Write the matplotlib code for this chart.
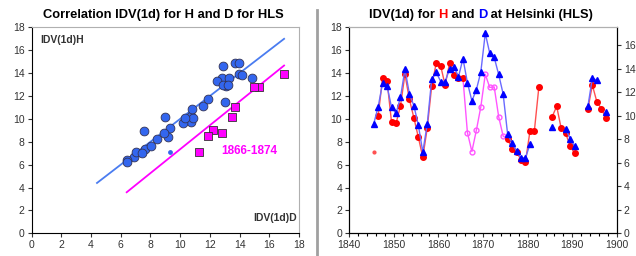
import numpy as np
import matplotlib
matplotlib.use("Agg")
import matplotlib.pyplot as plt
from matplotlib.ticker import MultipleLocator

plt.rcParams['font.family'] = ['Liberation Sans', 'DejaVu Sans']

nan = np.nan

# annual means, plotted at mid-year
years = np.arange(1845, 1898)

# IDV(1d) from H (left axis)
idv_h = [7.1, 10.25, 13.6, 13.3, 9.7, 9.6, 11.15, 13.9, 11.7, 10.1,
         8.4, 6.65, 9.2, 12.9, 14.85, 14.65, 12.95, 14.85, 13.8, 13.55,
         13.55, 8.8, 7.15, 9.0, 11.05, 13.9, 12.75, 12.8, 10.2, 8.5,
         8.25, 7.4, 7.15, 6.4, 6.2, 8.9, 8.95, 12.75, nan, nan,
         10.2, 11.1, 9.2, 8.75, 7.65, 7.0, nan, nan, 10.9, 12.95,
         11.5, 10.9, 10.1]

# IDV(1d) from D (right axis)
idv_d = [9.3, 10.75, 12.8, 12.5, 10.7, 10.2, 11.55, 13.95, 11.85, 10.85,
         9.2, 6.9, 9.3, 13.1, 13.7, 12.9, 12.9, 13.95, 14.15, 13.3,
         14.85, 12.8, 11.25, 12.2, 13.7, 17.0, 15.3, 14.95, 13.5, 11.85,
         8.45, 7.65, 7.0, 6.4, 6.4, 7.55, nan, nan, nan, nan,
         9.0, nan, nan, 8.9, 8.05, 7.4, nan, nan, 10.8, 13.2,
         13.0, nan, 10.3]

odd_period = (1866, 1874)   # H values deviating from D
partial_years = [1845]      # incomplete year, small marker

# regression lines in the scatter plot: slope, intercept, D-range
fit_normal = (1.0, 0.0, 4.4, 17.0)
fit_odd = (1.045, -3.10, 6.4, 17.0)

h = np.array(idv_h)
d = np.array(idv_d)
yr = years + 0.5
in_odd = (years >= odd_period[0]) & (years <= odd_period[1])
partial = np.isin(years, partial_years)

fig = plt.figure(figsize=(6.36, 2.56), dpi=100)
TFS = 9.3  # title font size

# ---- left: scatter H vs D
ax1 = fig.add_axes([0.0498, 0.0887, 0.4202, 0.8043])
ok = ~np.isnan(h) & ~np.isnan(d)
normal = ok & ~in_odd & ~partial
for slope, icpt, x0, x1, col in [fit_normal + ('#4a7cf0',), fit_odd + ('#ff00ff',)]:
    xs = np.array([x0, x1])
    ax1.plot(xs, slope * xs + icpt, color=col, lw=1.3, zorder=2)
ax1.scatter(d[normal], h[normal], s=40, color='#3366ee', edgecolor='#333355',
            linewidth=0.6, zorder=3)
ax1.scatter(d[ok & partial], h[ok & partial], s=6, color='#3366ee', zorder=3)
ax1.scatter(d[ok & in_odd], h[ok & in_odd], s=26, marker='s', color='#ff00ff',
            edgecolor='#333333', linewidth=0.6, zorder=3)
ax1.set_xlim(0, 18)
ax1.set_ylim(0, 18)
ax1.xaxis.set_major_locator(MultipleLocator(2))
ax1.yaxis.set_major_locator(MultipleLocator(2))
ax1.tick_params(labelsize=7.5, length=3, width=0.8, colors='#333333', pad=2)
for s in ['top', 'right']:
    ax1.spines[s].set_color('#b0b0b0')
ax1.text(0.6, 16.6, 'IDV(1d)H', fontsize=7.5, fontweight='bold', color='#333333')
ax1.text(14.9, 1.1, 'IDV(1d)D', fontsize=7.5, fontweight='bold', color='#333333')
ax1.text(12.8, 6.9, '1866-1874', fontsize=8.5, fontweight='bold', color='#ff00ff')
fig.text(0.257, 0.94, 'Correlation IDV(1d) for H and D for HLS', ha='center',
         va='center', fontsize=TFS, fontweight='bold')

# ---- right: time series
ax2 = fig.add_axes([0.549, 0.0887, 0.421, 0.8043])
ax3 = ax2.twinx()

h_main = np.where(in_odd | partial, nan, h)
odd_span = (years >= odd_period[0] - 1) & (years <= odd_period[1] + 1)
h_odd = np.where(odd_span, h, nan)
ax2.plot(yr, h_odd, color='#ff55ff', lw=1, marker='o', ms=3.5, mfc='none',
         mec='#ff55ff', markevery=list(np.where(in_odd)[0]), zorder=2)
ax2.plot(yr, h_main, color='#ff5050', lw=1, marker='o', ms=4, mfc='#ff0000',
         mec='#ff0000', zorder=3)
ax2.plot(yr[partial], h[partial], ls='none', marker='o', ms=2, color='#ff5050',
         zorder=3)
ax3.plot(yr, d, color='#6a6aff', lw=1, marker='^', ms=5, mfc='#0000ff',
         mec='#0000ff', zorder=4)

ax2.set_xlim(1840, 1900)
ax2.set_ylim(0, 18)
ax3.set_ylim(0, 17.5)
ax2.xaxis.set_major_locator(MultipleLocator(10))
ax2.xaxis.set_minor_locator(MultipleLocator(2))
ax2.yaxis.set_major_locator(MultipleLocator(2))
ax3.yaxis.set_major_locator(MultipleLocator(2))
ax2.tick_params(labelsize=7.5, length=3, width=0.8, colors='#333333', pad=2)
ax2.tick_params(which='minor', length=2, width=0.8)
ax3.tick_params(labelsize=7.5, length=3, width=0.8, colors='#333333', pad=2)
ax2.spines['top'].set_color('#b0b0b0')
ax3.spines['top'].set_color('#b0b0b0')

# title with coloured H and D, pieces laid out one after another
parts = [('IDV(1d) for ', 'black'), ('H', 'red'), (' and ', 'black'),
         ('D', 'blue'), (' at Helsinki (HLS)', 'black')]
pieces = [fig.text(0, 0.94, txt, fontsize=TFS, fontweight='bold', color=col,
                   ha='left', va='center') for txt, col in parts]
fig.canvas.draw()
renderer = fig.canvas.get_renderer()
widths = [p.get_window_extent(renderer).width / fig.bbox.width for p in pieces]
x = 0.756 - sum(widths) / 2
for p, w in zip(pieces, widths):
    p.set_x(x)
    x += w

# separator between panels
fig.add_artist(plt.Line2D([0.499, 0.499], [0.0, 0.96], color='#a0a0a0', lw=2))

fig.savefig('out.png', dpi=100)
